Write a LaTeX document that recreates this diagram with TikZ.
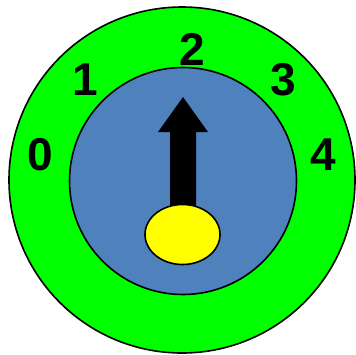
\documentclass[tikz,border=0pt]{standalone}
\usepackage{fontspec}
\setmainfont{Liberation Sans}
\usetikzlibrary{shapes.geometric}
\definecolor{dialgreen}{HTML}{00FF00}
\definecolor{dialblue}{HTML}{4F81BD}
\definecolor{knobyellow}{HTML}{FFFF00}
\tikzset{
  ring/.style={draw=black, line width=1.6pt},
  digit/.style={font=\bfseries\fontsize{46}{46}\selectfont, inner sep=0pt, text=black},
}
\begin{document}
\begin{tikzpicture}[x=1pt,y=-1pt]
\useasboundingbox (0,0) rectangle (356,354);
\node[ring, circle, fill=dialgreen, minimum size=346pt, inner sep=0pt] (outer) at (182,180) {};
\node[ring, circle, fill=dialblue, minimum size=227pt, inner sep=0pt] (inner) at (183,181) {};
\coordinate (tip) at (183,97);
\fill[black] (170,210) -- (170,132) -- (158,132) -- (tip) -- (208,132) -- (196,132) -- (196,210) -- cycle;
\node[ring, ellipse, fill=knobyellow, minimum width=75pt, minimum height=60pt, inner sep=0pt] (knob) at (182.5,234.5) {};
\node[digit] (d0) at (40,155) {0};
\node[digit] (d1) at (85,80) {1};
\node[digit] (d2) at (192,49) {2};
\node[digit] (d3) at (283,80) {3};
\node[digit] (d4) at (323,155) {4};
\end{tikzpicture}
\end{document}
